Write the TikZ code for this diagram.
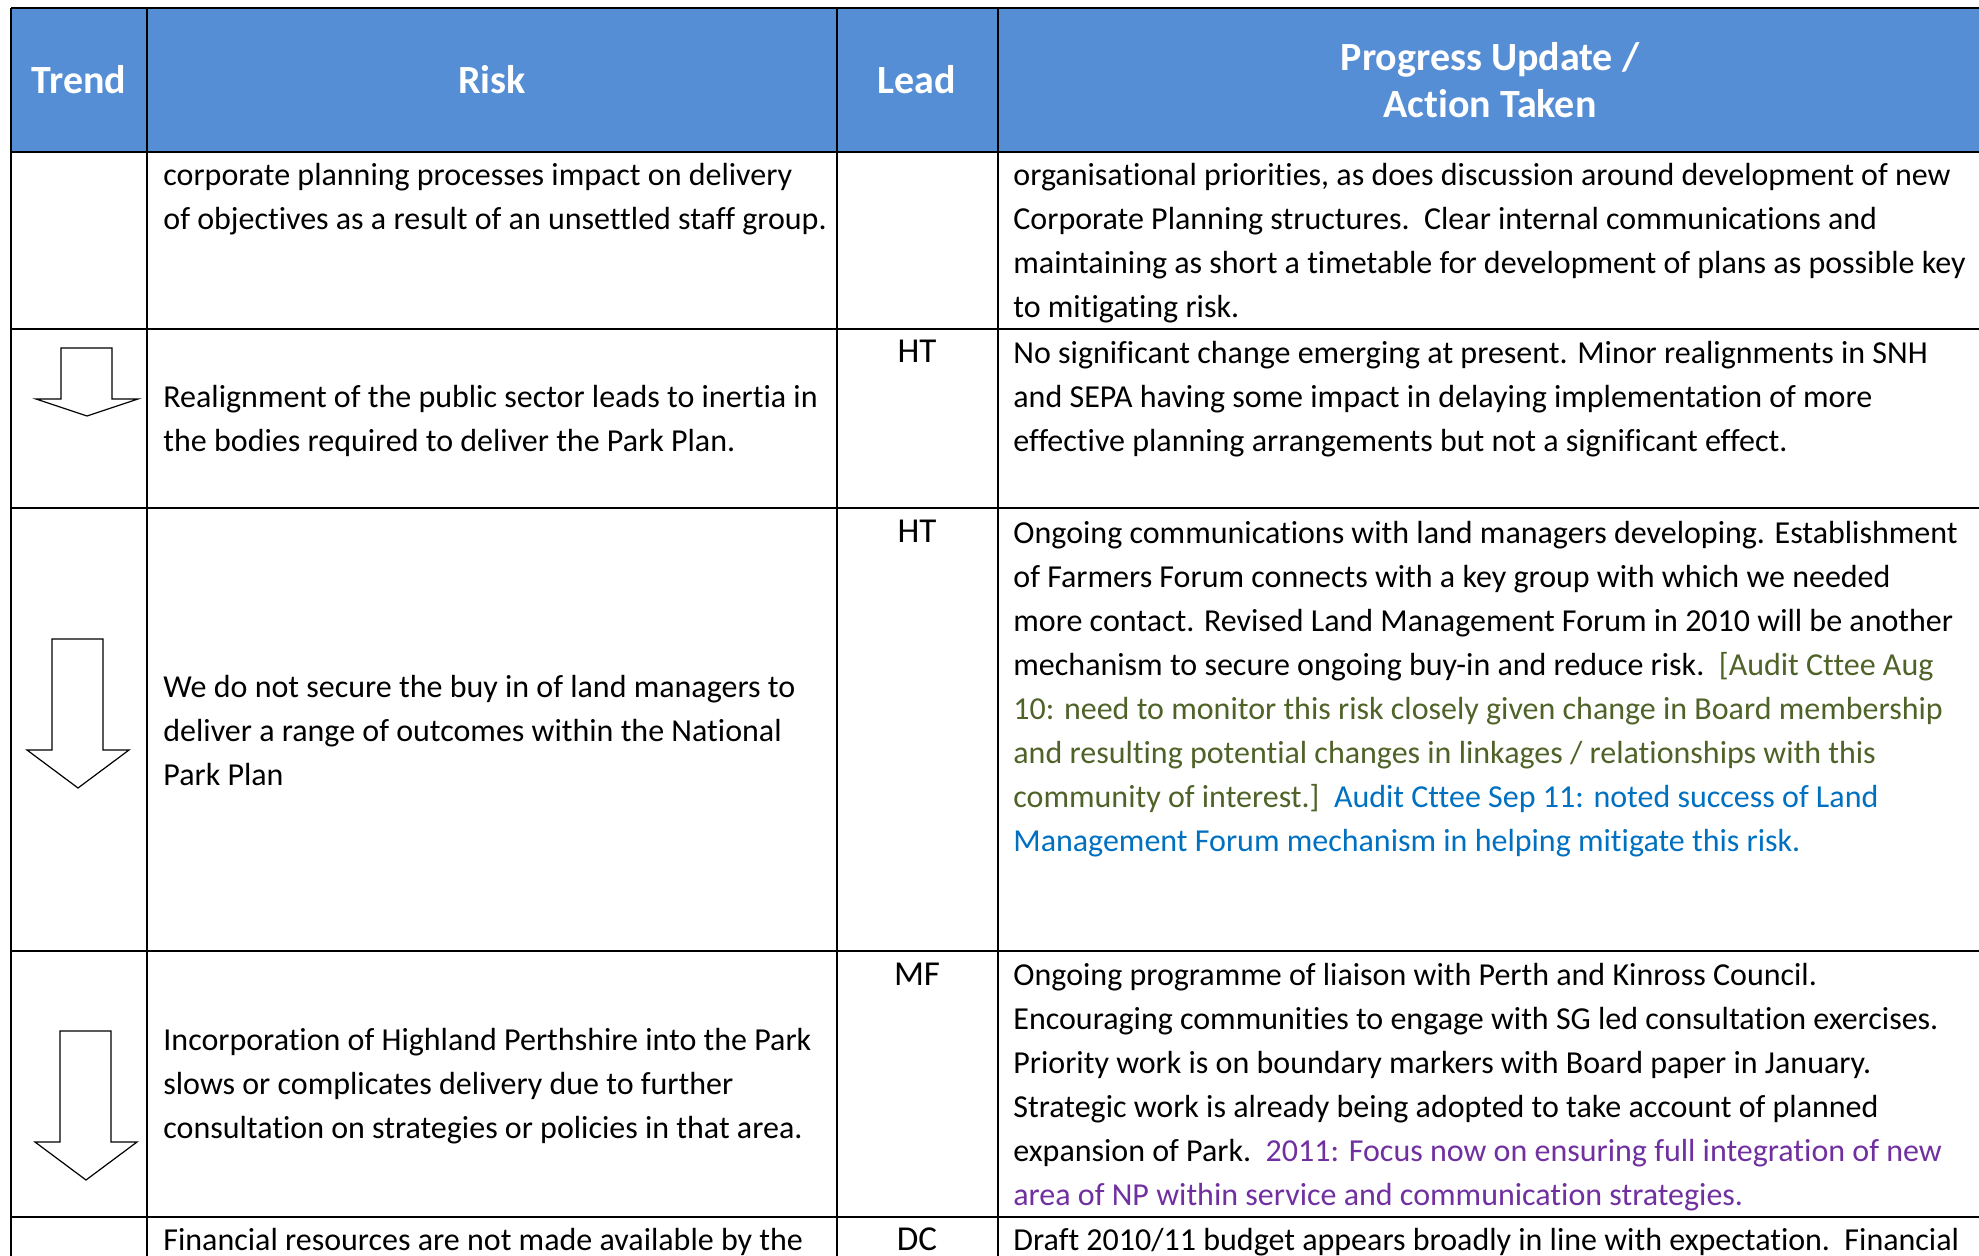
\documentclass[tikz,border=0pt]{standalone}
\usepackage{fontspec}
\setmainfont{Carlito}[Ligatures=NoCommon, Contextuals=NoAlternate]
\definecolor{hdrblue}{HTML}{558ED5}
\definecolor{noteolive}{HTML}{4F6228}
\definecolor{noteblue}{HTML}{0070C0}
\definecolor{notepurple}{HTML}{7030A0}
\tikzset{
  hdr/.style={text=white, inner sep=0pt, align=center,
    font=\bfseries\fontsize{20}{23.5}\selectfont},
  % first baseline sits at the given point
  cell/.style={anchor=north west, yshift=15.4pt, inner sep=0pt, align=left,
    font=\fontsize{16}{22}\selectfont},
  lead/.style={anchor=base, inner sep=0pt, font=\fontsize{17.5}{22}\selectfont},
  rule/.style={line width=1pt},
  trendarrow/.style={draw=black, fill=white, line width=0.6pt, line join=miter}
}
\begin{document}
\begin{tikzpicture}[x=0.5pt, y=-0.5pt]
  \useasboundingbox (0,0) rectangle (1979,1256);
  \fill[hdrblue] (11,8) rectangle (1982,152);
  % table rules
  \foreach \yy in {8,152,329,508,951,1217}
    \draw[rule] (11,\yy) -- (1982,\yy);
  \foreach \xx in {11,147,837,998,1982}
    \draw[rule] (\xx,8) -- (\xx,1260);
  % header
  \node[hdr] (hTrend) at (79,80) {Trend};
  \node[hdr] (hRisk) at (492,80) {Risk};
  \node[hdr] (hLead) at (917,80) {Lead};
  \node[hdr] (hProgress) at (1490,80) {Progress Update /\\ Action Taken};
  % row 1
  \node[cell] (risk1) at (163,185) {\strut corporate planning processes impact on delivery\\
    of objectives as a result of an unsettled staff group.};
  \node[cell] (prog1) at (1013,185) {\strut organisational priorities, as does discussion around development of new\\
    Corporate Planning structures.\ \ Clear internal communications and\\
    maintaining as short a timetable for development of plans as possible key\\
    to mitigating risk.};
  % row 2
  \node[lead] (lead2) at (917,363) {HT};
  \node[cell] (risk2) at (163,407) {\strut Realignment of the public sector leads to inertia in\\
    the bodies required to deliver the Park Plan.};
  \node[cell] (prog2) at (1013,363) {\strut No significant change emerging at present. Minor realignments in SNH\\
    and SEPA having some impact in delaying implementation of more\\
    effective planning arrangements but not a significant effect.};
  % row 3
  \node[lead] (lead3) at (917,542) {HT};
  \node[cell] (risk3) at (163,697) {\strut We do not secure the buy in of land managers to\\
    deliver a range of outcomes within the National\\
    Park Plan};
  \node[cell] (prog3) at (1013,543) {\strut Ongoing communications with land managers developing. Establishment\\
    of Farmers Forum connects with a key group with which we needed\\
    more contact. Revised Land Management Forum in 2010 will be another\\
    mechanism to secure ongoing buy-in and reduce risk.\ \ \textcolor{noteolive}{[Audit Cttee Aug}\\
    \textcolor{noteolive}{10: need to monitor this risk closely given change in Board membership}\\
    \textcolor{noteolive}{and resulting potential changes in linkages / relationships with this}\\
    \textcolor{noteolive}{community of interest.]}\ \ \textcolor{noteblue}{Audit Cttee Sep 11: noted success of Land}\\
    \textcolor{noteblue}{Management Forum mechanism in helping mitigate this risk.}};
  % row 4
  \node[lead] (lead4) at (917,985) {MF};
  \node[cell] (risk4) at (163,1050) {\strut Incorporation of Highland Perthshire into the Park\\
    slows or complicates delivery due to further\\
    consultation on strategies or policies in that area.};
  \node[cell] (prog4) at (1013,985) {\strut Ongoing programme of liaison with Perth and Kinross Council.\\
    Encouraging communities to engage with SG led consultation exercises.\\
    Priority work is on boundary markers with Board paper in January.\\
    Strategic work is already being adopted to take account of planned\\
    expansion of Park.\ \ \textcolor{notepurple}{2011: Focus now on ensuring full integration of new}\\
    \textcolor{notepurple}{area of NP within service and communication strategies.}};
  % row 5
  \node[lead] (lead5) at (917,1250) {DC};
  \node[cell] (risk5) at (163,1250) {\strut Financial resources are not made available by the};
  \node[cell] (prog5) at (1013,1250) {\strut Draft 2010/11 budget appears broadly in line with expectation.\ \ Financial};
  % trend arrows
  \draw[trendarrow] (61,348) -- (112,348) -- (112,399) -- (138,399) -- (87,416)
    -- (36,399) -- (61,399) -- cycle;
  \draw[trendarrow] (52,639) -- (103,639) -- (103,750) -- (129,750) -- (78,788)
    -- (27,750) -- (52,750) -- cycle;
  \draw[trendarrow] (60,1031) -- (111,1031) -- (111,1142) -- (137,1142) -- (86,1180)
    -- (35,1142) -- (60,1142) -- cycle;
\end{tikzpicture}
\end{document}
